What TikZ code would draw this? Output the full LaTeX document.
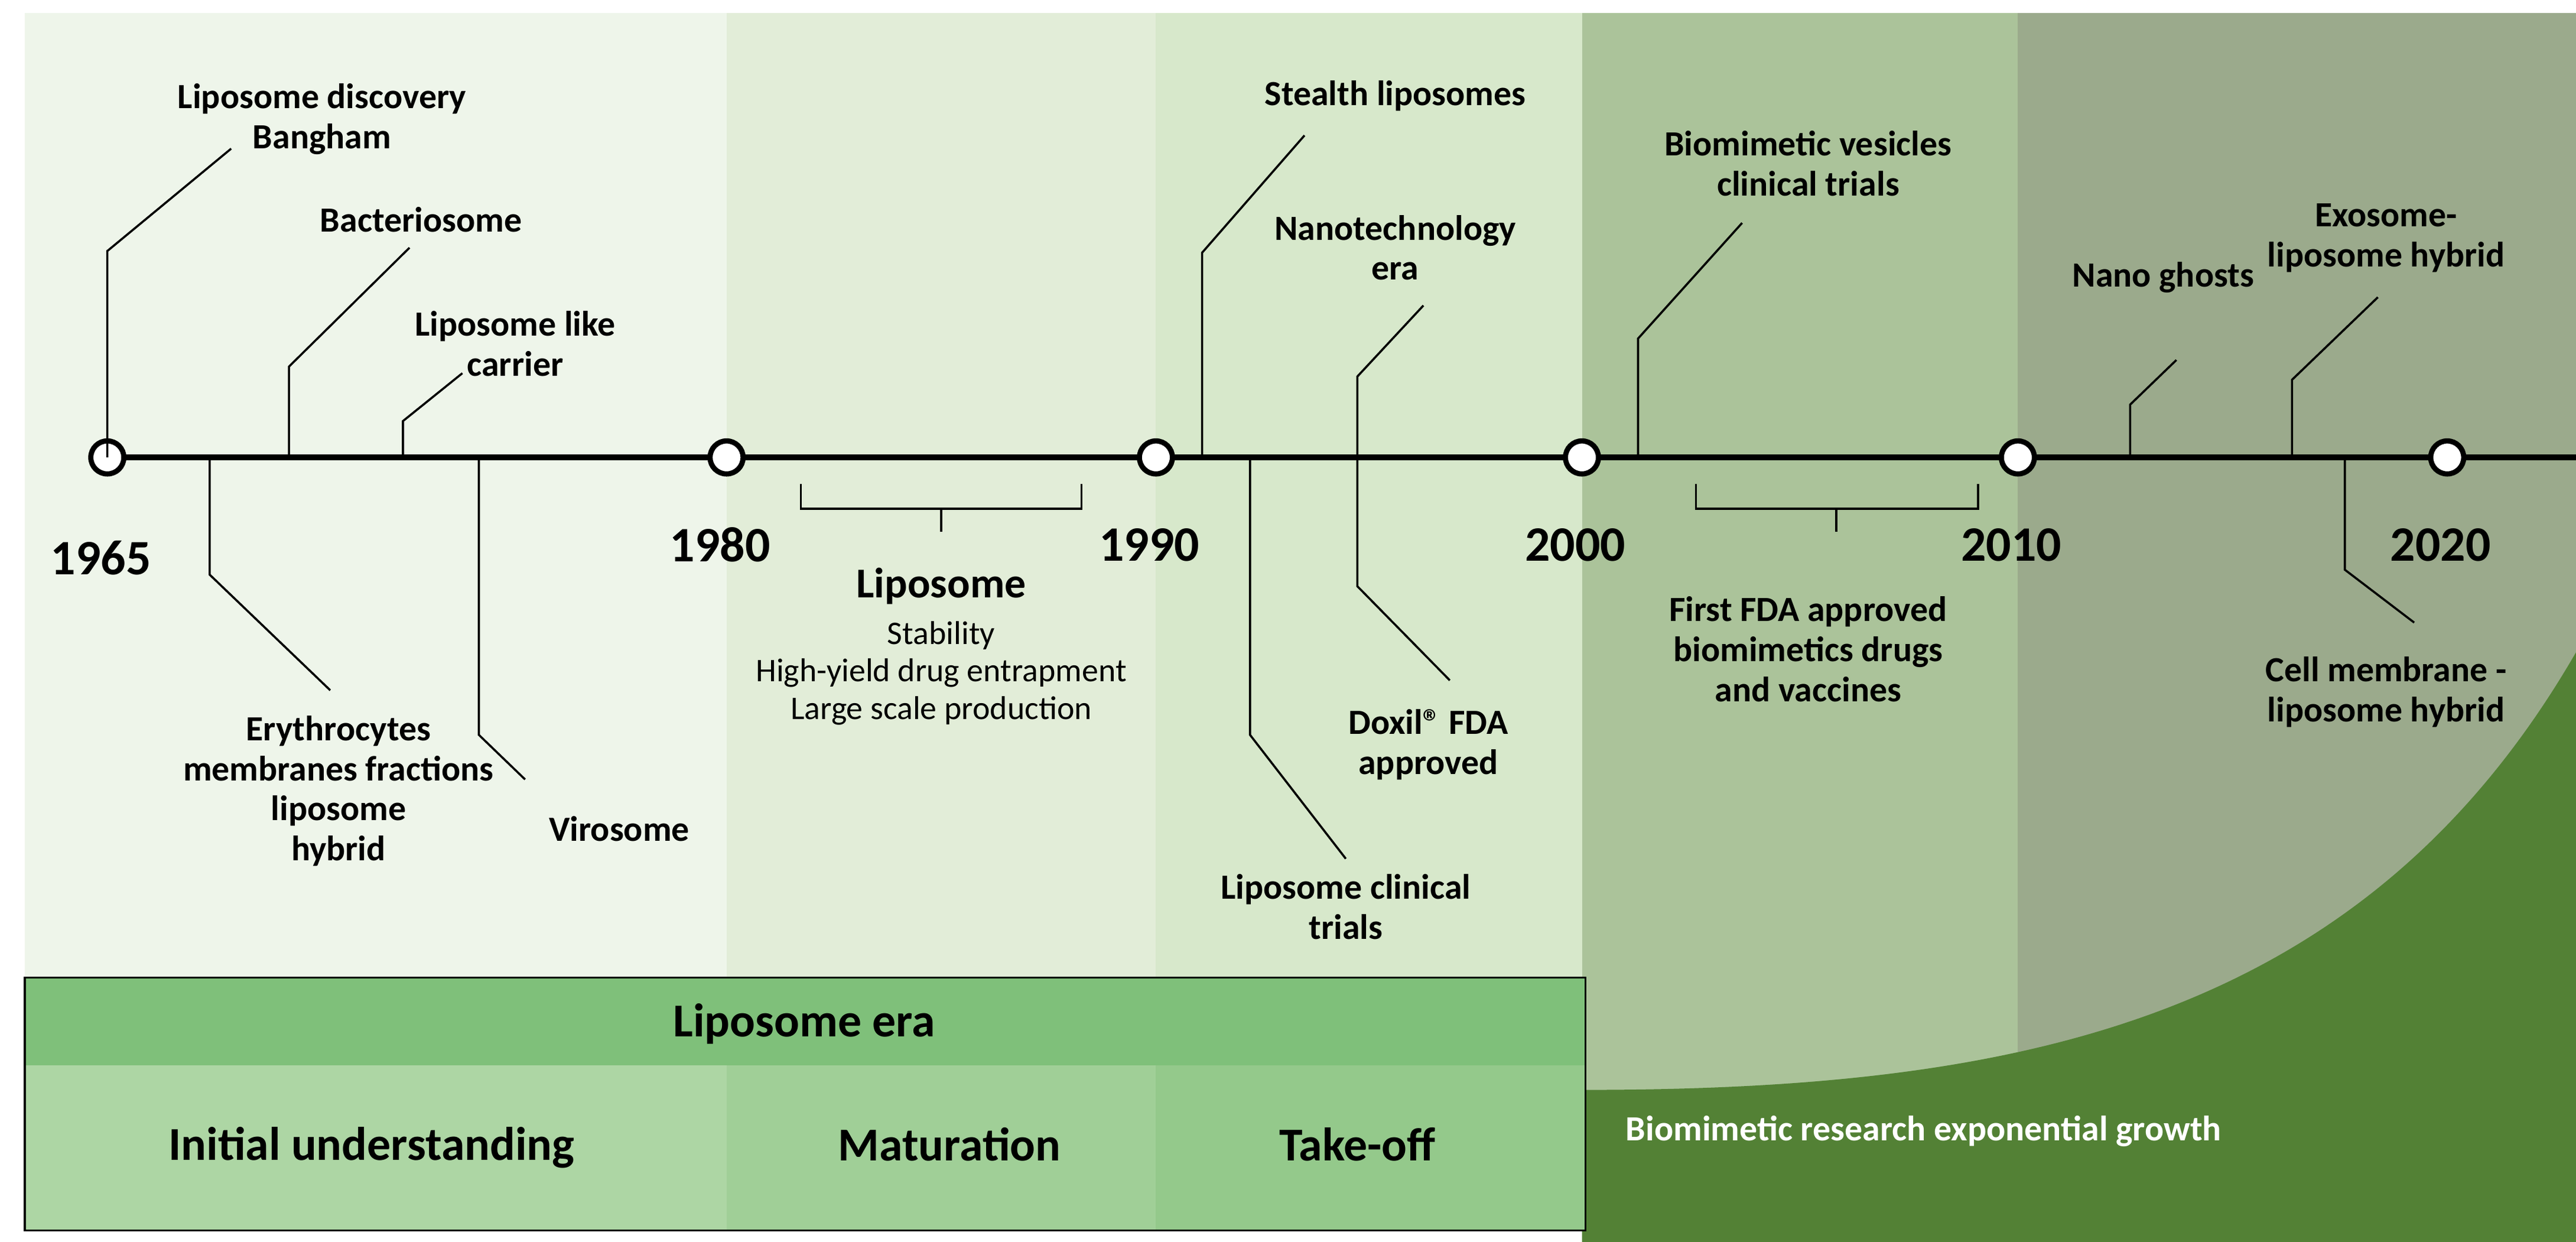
\documentclass[tikz,border=0pt]{standalone}
\usepackage{fontspec}
\setmainfont{Carlito}
\usepackage{tikz}
\usetikzlibrary{positioning}
\definecolor{bandA}{HTML}{EEF5EA}
\definecolor{bandB}{HTML}{E2EDD8}
\definecolor{bandC}{HTML}{D7E8CB}
\definecolor{bandD}{HTML}{ABC39A}
\definecolor{bandE}{HTML}{9BAA8C}
\definecolor{eraHead}{HTML}{7FC07A}
\definecolor{eraA}{HTML}{ADD6A4}
\definecolor{eraB}{HTML}{A0CF97}
\definecolor{eraC}{HTML}{94C98B}
\definecolor{growth}{HTML}{538135}
\tikzset{
  evt/.style={font=\bfseries\fontsize{15}{17}\selectfont, align=center, inner sep=1pt},
  year/.style={font=\bfseries\fontsize{21}{23}\selectfont},
  lead/.style={line width=0.9pt},
  yearmark/.style={circle, draw, line width=2.2pt, fill=white, minimum size=14pt, inner sep=0pt},
  sub/.style={font=\fontsize{14}{16}\selectfont, align=center},
  era/.style={font=\bfseries\fontsize{20}{22}\selectfont}
}
\begin{document}
\begin{tikzpicture}[x=0.7pt,y=0.7pt,yscale=-1,xscale=1]
\useasboundingbox (0,0) rectangle (1560,752);

%bands
\fill[bandA] (15,8) rectangle (440,592);
\fill[bandB] (440,8) rectangle (700,592);
\fill[bandC] (700,8) rectangle (958,592);
\fill[bandD] (958,8) rectangle (1222,752);
\fill[bandE] (1222,8) rectangle (1560,752);

%growth curve
\fill[growth] (958,660) .. controls (1220,660) and (1430,620) .. (1560,395) -- (1560,752) -- (958,752) -- cycle;
\node[font=\bfseries\fontsize{15}{17}\selectfont, text=white] (growthtxt) at (1165,685) {Biomimetic research exponential growth};

%era box
\fill[eraA] (15,645) rectangle (440,745);
\fill[eraB] (440,645) rectangle (700,745);
\fill[eraC] (700,645) rectangle (960,745);
\fill[eraHead] (15,592) rectangle (960,645);
\draw[line width=0.8pt] (15,592) rectangle (960,745);
\node[era] (eratitle) at (487,620) {Liposome era};
\node[era] (initial) at (225,695) {Initial understanding};
\node[era] (matur) at (575,693) {Maturation};
\node[era] (takeoff) at (822,693) {Take-off};

%timeline
\coordinate (tend) at (1560,277);
\draw[line width=2.6pt] (65,277) -- (tend);
\foreach \x/\yr/\dy in {65/1965/338, 440/1980/330, 700/1990/330, 958/2000/330, 1222/2010/330, 1482/2020/330}{
  \node[yearmark] (m\yr) at (\x,277) {};
  \node[year] (y\yr) at (\x-4,\dy) {\yr};
}

%events above
\node[evt] (discovery) at (195,72) {Liposome discovery\\Bangham};
\draw[lead] (65,277) -- (65,152) -- (140,90);
\node[evt] (bacterio) at (255,133) {Bacteriosome};
\draw[lead] (175,277) -- (175,222) -- (248,150);
\node[evt] (likecarrier) at (312,208) {Liposome like\\carrier};
\draw[lead] (244,277) -- (244,255) -- (280,226);
\node[evt] (stealth) at (845,58) {Stealth liposomes};
\draw[lead] (728,277) -- (728,153) -- (790,82);
\node[evt] (nanotech) at (845,150) {Nanotechnology\\era};
\draw[lead] (862,185) -- (822,228) -- (822,355) -- (878,412);
\node[evt] (biovesicle) at (1095,99) {Biomimetic vesicles\\clinical trials};
\draw[lead] (992,277) -- (992,205) -- (1055,135);
\node[evt] (ghosts) at (1310,168) {Nano ghosts};
\draw[lead] (1290,277) -- (1290,245) -- (1318,218);
\node[evt] (exosome) at (1445,144) {Exosome-\\liposome hybrid};
\draw[lead] (1388,277) -- (1388,230) -- (1440,180);

%events below
\node[evt] (erythro) at (205,479) {Erythrocytes\\membranes fractions\\liposome\\hybrid};
\draw[lead] (127,277) -- (127,348) -- (200,418);
\node[evt] (virosome) at (375,502) {Virosome};
\draw[lead] (290,277) -- (290,445) -- (318,472);
\node[evt] (clinical) at (815,549) {Liposome clinical\\trials};
\draw[lead] (757,277) -- (757,445) -- (815,520);
\node[evt] (doxil) at (865,451) {Doxil\textregistered{} FDA\\approved};
\node[evt] (cellmem) at (1445,419) {Cell membrane -\\liposome hybrid};
\draw[lead] (1420,277) -- (1420,345) -- (1462,377);

%braces
\draw[lead] (485,293) -- (485,308) -- (655,308) -- (655,293) (570,308) -- (570,322);
\node[era, font=\bfseries\fontsize{18}{20}\selectfont] (lipo) at (570,355) {Liposome};
\node[sub, below=0pt of lipo] (lipotxt) {Stability\\High-yield drug entrapment\\Large scale production};
\draw[lead] (1027,293) -- (1027,308) -- (1198,308) -- (1198,293) (1112,308) -- (1112,322);
\node[evt] (fda) at (1095,393) {First FDA approved\\biomimetics drugs\\and vaccines};
\end{tikzpicture}
\end{document}
